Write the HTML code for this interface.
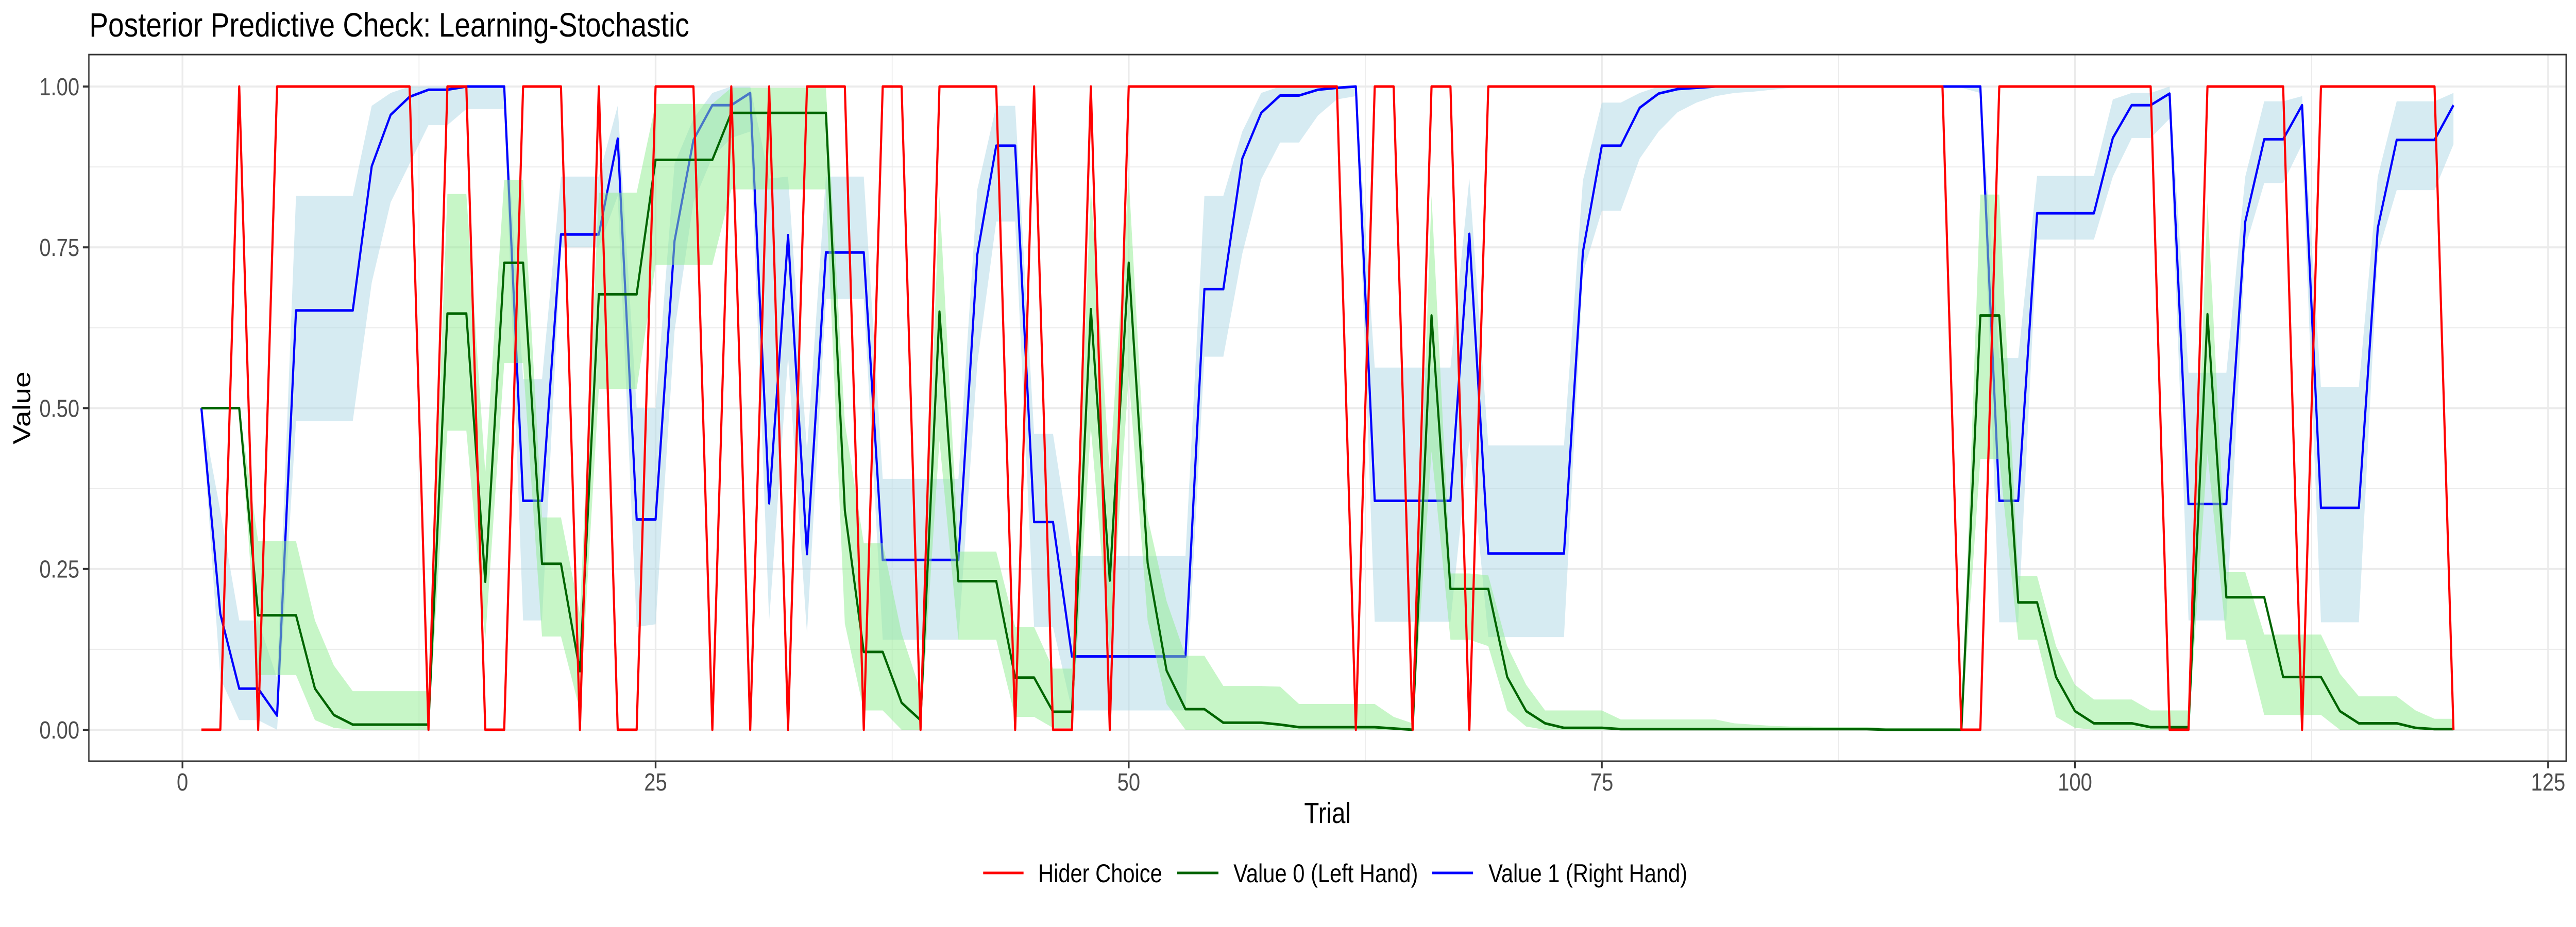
<!DOCTYPE html>
<html><head><meta charset="utf-8"><style>
html,body{margin:0;padding:0;background:#fff;width:100%;height:100%;overflow:hidden;}
svg{display:block;width:100vw;height:100vh;font-family:"Liberation Sans",Arial,sans-serif;}
</style></head><body>
<svg id="chart" viewBox="0 0 6000 1800" preserveAspectRatio="none" xmlns="http://www.w3.org/2000/svg">
<rect x="0" y="0" width="6000" height="1800" fill="#fff"/>
<text x="208" y="71" font-size="66" fill="#000">Posterior Predictive Check: Learning-Stochastic</text>
<g id="grid"></g>
<g id="lines"></g>
<rect x="207" y="106" width="5770" height="1372" fill="none" stroke="#333" stroke-width="3"/>
<g id="axes"></g>
<text x="3092" y="1598" font-size="57" text-anchor="middle" fill="#000">Trial</text>
<text x="0" y="0" font-size="57" text-anchor="middle" fill="#000" transform="translate(70,792) rotate(-90)">Value</text>
<g id="legend">
<line x1="2290" y1="1695" x2="2384" y2="1695" stroke="#FF0000" stroke-width="5"/>
<text x="2418" y="1713" font-size="50" fill="#000">Hider Choice</text>
<line x1="2742" y1="1695" x2="2838" y2="1695" stroke="#006400" stroke-width="5"/>
<text x="2873" y="1713" font-size="50" fill="#000">Value 0 (Left Hand)</text>
<line x1="3336" y1="1695" x2="3431" y2="1695" stroke="#0000FF" stroke-width="5"/>
<text x="3467" y="1713" font-size="50" fill="#000">Value 1 (Right Hand)</text>
</g>
</svg>
<script>
const hider=[0,0,1,0,1,1,1,1,1,1,1,1,0,1,1,0,0,1,1,1,0,1,0,0,1,1,1,0,1,0,1,0,1,1,1,0,1,1,0,1,1,1,1,0,1,0,0,1,0,1,1,1,1,1,1,1,1,1,1,1,1,0,1,1,0,1,1,0,1,1,1,1,1,1,1,1,1,1,1,1,1,1,1,1,1,1,1,1,1,1,1,1,1,0,0,1,1,1,1,1,1,1,1,1,0,0,1,1,1,1,1,0,1,1,1,1,1,1,1,0];
const value1=[.5,.18,.064,.064,.022,.652,.652,.652,.652,.876,.956,.984,.995,.995,1,1,1,.356,.356,.77,.77,.77,.919,.327,.327,.76,.917,.971,.971,.99,.352,.769,.273,.742,.742,.742,.264,.264,.264,.264,.264,.739,.908,.908,.323,.323,.114,.114,.114,.114,.114,.114,.114,.685,.685,.888,.959,.986,.986,.995,.998,1,.356,.356,.356,.356,.356,.771,.274,.274,.274,.274,.274,.743,.908,.908,.967,.989,.996,.998,1,1,1,1,1,1,1,1,1,1,1,1,1,1,1,.356,.356,.803,.803,.803,.803,.92,.971,.971,.989,.351,.351,.351,.79,.918,.918,.971,.345,.345,.345,.78,.917,.917,.917,.971];
const value1Lo=[.5,.08,.015,.015,0,.48,.48,.48,.48,.695,.82,.88,.94,.94,.965,.965,.965,.17,.17,.75,.75,.75,.83,.16,.164,.62,.82,.89,.92,.93,.17,.58,.15,.67,.67,.67,.14,.14,.14,.14,.14,.57,.79,.79,.16,.16,.03,.03,.03,.03,.03,.03,.03,.58,.58,.74,.856,.913,.913,.955,.98,.985,.168,.168,.168,.168,.168,.45,.144,.144,.144,.144,.144,.71,.807,.807,.888,.93,.96,.975,.985,.99,.992,.995,.998,.998,.998,.998,.998,.998,.998,.998,.998,.998,.99,.167,.167,.762,.762,.762,.762,.86,.92,.92,.95,.17,.17,.17,.75,.85,.85,.91,.167,.167,.167,.74,.839,.839,.839,.91];
const value1Hi=[.5,.34,.17,.17,.08,.83,.83,.83,.83,.97,.99,1,1,1,1,1,1,.545,.545,.86,.86,.86,.97,.5,.5,.88,.95,.99,1,1,.857,.86,.434,.86,.86,.86,.39,.39,.39,.39,.39,.84,.97,.97,.46,.46,.27,.27,.27,.27,.27,.27,.27,.83,.83,.93,.99,1,1,1,1,1,.563,.563,.563,.563,.563,.857,.442,.442,.442,.442,.442,.854,.975,.975,.99,1,1,1,1,1,1,1,1,1,1,1,1,1,1,1,1,1,1,.578,.578,.861,.861,.861,.861,.98,.99,.99,1,.555,.555,.555,.86,.977,.977,.985,.533,.533,.533,.86,.977,.977,.977,.99];
const value0=[.5,.5,.5,.178,.178,.178,.064,.023,.008,.008,.008,.008,.008,.647,.647,.23,.726,.726,.258,.258,.091,.677,.677,.677,.886,.886,.886,.886,.959,.959,.959,.959,.959,.959,.341,.121,.121,.042,.015,.65,.231,.231,.231,.081,.081,.028,.028,.654,.232,.726,.259,.092,.032,.032,.011,.011,.011,.008,.004,.004,.004,.004,.004,.002,0,.644,.219,.219,.219,.082,.029,.01,.003,.003,.003,.001,.001,.001,.001,.001,.001,.001,.001,.001,.001,.001,.001,.001,.001,0,0,0,0,0,.644,.644,.198,.198,.082,.029,.01,.01,.01,.004,.004,.004,.646,.206,.206,.206,.082,.082,.082,.029,.01,.01,.01,.003,.001,.001];
const value0Lo=[.5,.5,.5,.085,.085,.085,.015,.003,0,0,0,0,0,.465,.465,.14,.57,.57,.145,.145,.03,.53,.53,.53,.723,.723,.723,.723,.84,.84,.84,.84,.84,.84,.165,.03,.03,0,0,.45,.14,.14,.14,.02,.02,.003,.003,.47,.12,.55,.17,.04,0,0,0,0,0,0,0,0,0,0,0,0,0,.433,.14,.14,.13,.03,.005,0,0,0,0,0,0,0,0,0,0,0,0,0,0,0,0,0,0,0,0,0,0,0,.421,.421,.14,.14,.02,.003,0,0,0,0,0,0,.43,.14,.14,.023,.023,.023,.023,0,0,0,0,0,0,0];
const value0Hi=[.5,.5,.5,.293,.293,.293,.17,.1,.06,.06,.06,.06,.06,.833,.833,.4,.855,.855,.33,.33,.18,.835,.835,.835,.973,.973,.973,.973,.998,.998,.998,.998,.998,.998,.477,.29,.29,.15,.06,.83,.277,.277,.277,.16,.16,.095,.095,.84,.4,.86,.33,.2,.115,.115,.068,.068,.068,.067,.04,.04,.04,.04,.04,.02,.01,.83,.243,.243,.24,.13,.07,.03,.03,.03,.03,.016,.016,.016,.016,.016,.016,.01,.008,.006,.005,.005,.004,.004,.004,.003,.003,.003,.003,.002,.832,.832,.239,.239,.13,.07,.047,.047,.047,.03,.03,.03,.82,.245,.245,.148,.148,.148,.148,.087,.052,.052,.052,.03,.017,.017];
const xTicks=[0,25,50,75,100,125];
const yTicks=[0,0.25,0.5,0.75,1];
const yTickLabels=["0.00","0.25","0.50","0.75","1.00"];

const NS="http://www.w3.org/2000/svg";
const X0=425, XS=44.08, Y0=1417, YS=1249;
const PL=207, PR=5977, PT=106, PB=1478;
function sx(t){return X0+XS*t;}
function sy(v){return Y0-YS*v;}
function mk(tag,attrs,parent){const e=document.createElementNS(NS,tag);for(const k in attrs)e.setAttribute(k,attrs[k]);parent.appendChild(e);return e;}

const grid=document.getElementById('grid');
for(let i=0;i<xTicks.length-1;i++){
  const m=(xTicks[i]+xTicks[i+1])/2;
  const l=mk('line',{x1:sx(m),x2:sx(m),y1:PT,y2:PB,stroke:'#EBEBEB','stroke-width':2},grid);
  
  
}
for(let i=0;i<yTicks.length-1;i++){
  const m=(yTicks[i]+yTicks[i+1])/2;
  const l=mk('line',{x1:PL,x2:PR,y1:sy(m),y2:sy(m),stroke:'#EBEBEB','stroke-width':2},grid);
  
  
}
xTicks.forEach(t=>{
  const l=mk('line',{x1:sx(t),x2:sx(t),y1:PT,y2:PB,stroke:'#EBEBEB','stroke-width':4},grid);
  
  
});
yTicks.forEach(v=>{
  const l=mk('line',{x1:PL,x2:PR,y1:sy(v),y2:sy(v),stroke:'#EBEBEB','stroke-width':4},grid);
  
  
});

function ribbon(lo,hi,fill,name){
  let d='';
  for(let i=0;i<hi.length;i++){d+=(i?'L':'M')+sx(i+1).toFixed(1)+','+sy(hi[i]).toFixed(1);}
  for(let i=lo.length-1;i>=0;i--){d+='L'+sx(i+1).toFixed(1)+','+sy(lo[i]).toFixed(1);}
  d+='Z';
  const p=mk('path',{d:d,fill:fill,'fill-opacity':0.5,stroke:'none'},document.getElementById('lines'));
  
  
}
function line(vals,color,name){
  let d='';
  for(let i=0;i<vals.length;i++){d+=(i?'L':'M')+sx(i+1).toFixed(1)+','+sy(vals[i]).toFixed(1);}
  const p=mk('path',{d:d,fill:'none',stroke:color,'stroke-width':5,'stroke-linejoin':'round'},document.getElementById('lines'));
  
  
}
ribbon(value1Lo,value1Hi,'#ADD8E6','value1-ribbon');
line(value1,'#0000FF','value1-line');
ribbon(value0Lo,value0Hi,'#90EE90','value0-ribbon');
line(value0,'#006400','value0-line');
line(hider,'#FF0000','hider-choice-line');

const axes=document.getElementById('axes');
xTicks.forEach(t=>{
  const tk=mk('line',{x1:sx(t),x2:sx(t),y1:PB,y2:PB+14,stroke:'#333','stroke-width':4},axes);
  
  
  const tx=mk('text',{x:sx(t),y:PB+57,'font-size':48,'text-anchor':'middle',fill:'#4D4D4D'},axes);
  tx.textContent=String(t);
  
  
});
yTicks.forEach((v,i)=>{
  const tk=mk('line',{x1:PL-14,x2:PL,y1:sy(v),y2:sy(v),stroke:'#333','stroke-width':4},axes);
  
  
  const tx=mk('text',{x:PL-22,y:sy(v)+17,'font-size':48,'text-anchor':'end',fill:'#4D4D4D'},axes);
  tx.textContent=yTickLabels[i];
  
  
});
</script>
</body></html>
